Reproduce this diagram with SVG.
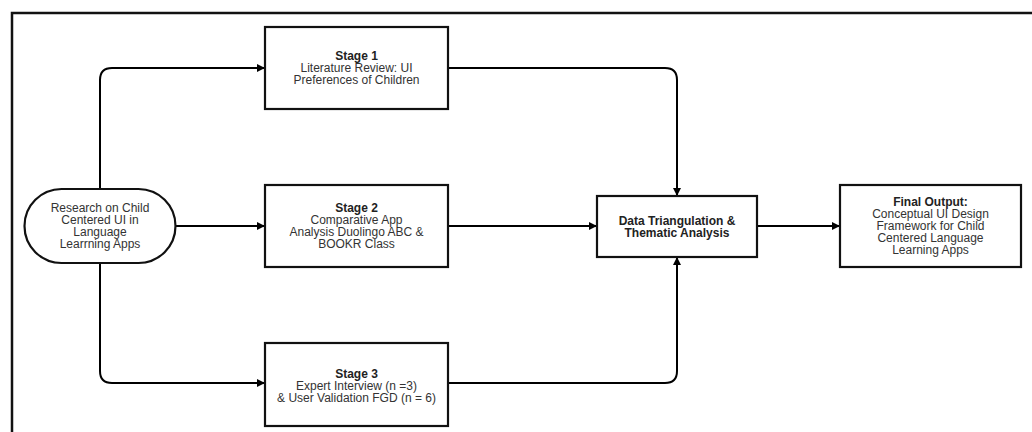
<svg xmlns="http://www.w3.org/2000/svg" width="1032" height="432" viewBox="0 0 1032 432">
<defs>
<marker id="arr" markerWidth="9" markerHeight="9" refX="8" refY="4.5" orient="auto" markerUnits="userSpaceOnUse">
<path d="M0,0.5 L8,4.5 L0,8.5 z" fill="#000"/>
</marker>
<style>
.box{fill:#fff;stroke:#111;stroke-width:2.2}
.edge{fill:none;stroke:#000;stroke-width:2;marker-end:url(#arr)}
text{font-family:"Liberation Sans",Arial,sans-serif;font-size:12px;fill:#333;text-anchor:middle}
.b{font-weight:bold;fill:#222}
</style>
</defs>
<rect width="1032" height="432" fill="#fff"/>
<rect x="12" y="13" width="1030" height="430" fill="none" stroke="#111" stroke-width="2.5"/>
<g id="connectors">
<path class="edge" d="M100,189 V80 Q100,68 112,68 H265"/>
<path class="edge" d="M175,226 H265"/>
<path class="edge" d="M100,263 V371 Q100,383 112,383 H265"/>
<path class="edge" d="M448,68 H665 Q677,68 677,80 V196"/>
<path class="edge" d="M448,226 H597"/>
<path class="edge" d="M448,383 H665 Q677,383 677,371 V257"/>
<path class="edge" d="M757,226 H840"/>
</g>
<g id="start">
<rect class="box" x="24.5" y="189" width="151" height="74" rx="37" ry="37"/>
<text x="100" y="212">Research on Child</text>
<text x="100" y="224">Centered UI in</text>
<text x="100" y="236">Language</text>
<text x="100" y="248">Learrning Apps</text>
</g>
<g id="stage1">
<rect class="box" x="265" y="27" width="183" height="82"/>
<text class="b" x="356.5" y="60">Stage 1</text>
<text x="356.5" y="72">Literature Review: UI</text>
<text x="356.5" y="84">Preferences of Children</text>
</g>
<g id="stage2">
<rect class="box" x="265" y="185" width="183" height="82"/>
<text class="b" x="356.5" y="212">Stage 2</text>
<text x="356.5" y="224">Comparative App</text>
<text x="356.5" y="236">Analysis Duolingo ABC &amp;</text>
<text x="356.5" y="248">BOOKR Class</text>
</g>
<g id="stage3">
<rect class="box" x="265" y="343" width="183" height="83"/>
<text class="b" x="356.5" y="378">Stage 3</text>
<text x="356.5" y="390">Expert Interview (n =3)</text>
<text x="356.5" y="402">&amp; User Validation FGD (n = 6)</text>
</g>
<g id="triangulation">
<rect class="box" x="597" y="196" width="160" height="61"/>
<text class="b" x="677" y="225">Data Triangulation &amp;</text>
<text class="b" x="677" y="237">Thematic Analysis</text>
</g>
<g id="final">
<rect class="box" x="840" y="185" width="181" height="82"/>
<text class="b" x="930.5" y="206">Final Output:</text>
<text x="930.5" y="218">Conceptual UI Design</text>
<text x="930.5" y="230">Framework for Child</text>
<text x="930.5" y="242">Centered Language</text>
<text x="930.5" y="254">Learning Apps</text>
</g>
</svg>
